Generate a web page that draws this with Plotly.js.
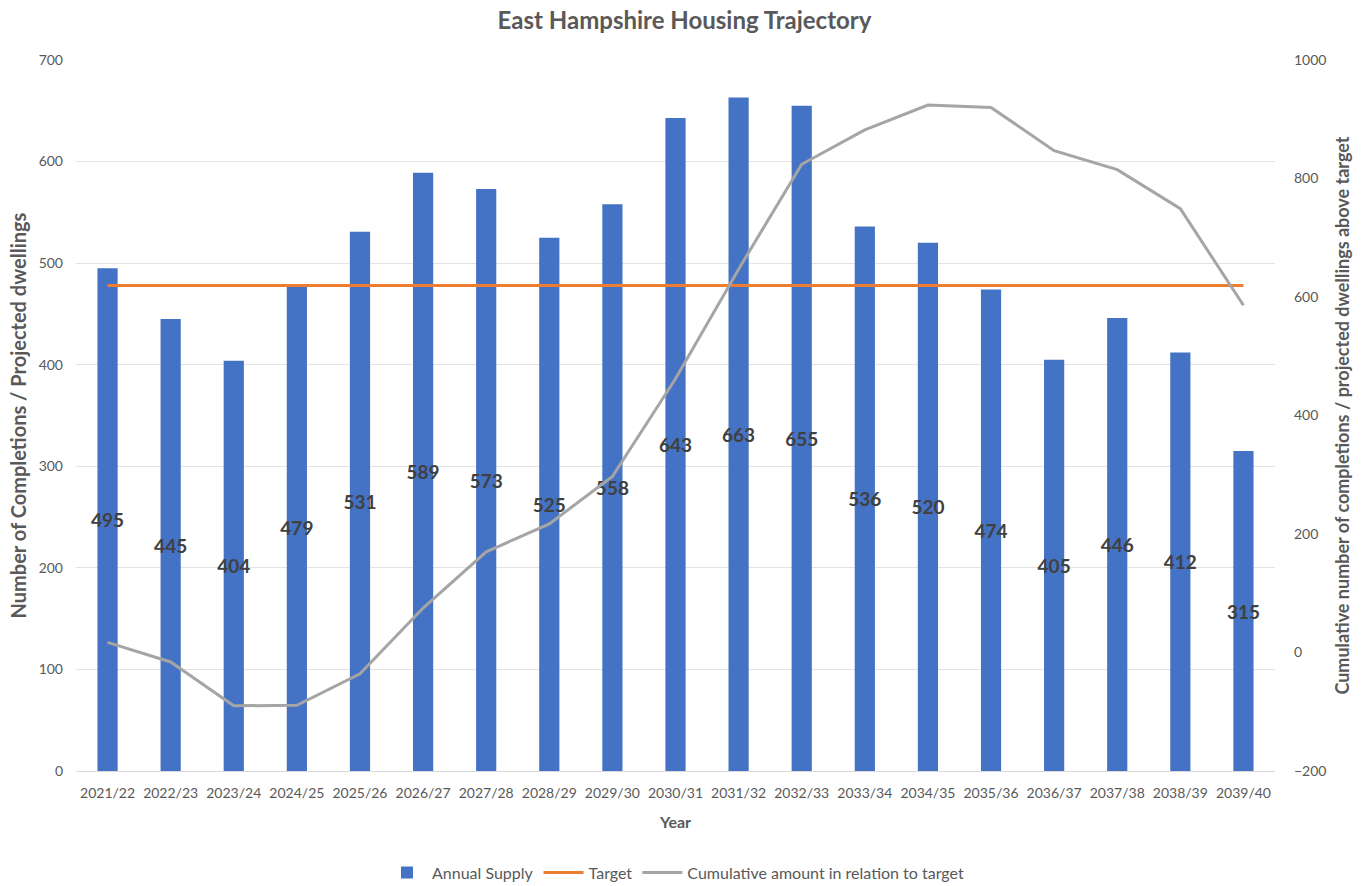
<!DOCTYPE html>
<html>
<head>
<meta charset="utf-8">
<script src="https://cdn.plot.ly/plotly-3.0.1.min.js"></script>
<style>html,body{margin:0;padding:0;background:#fff;}#chart{width:1369px;height:886px;}</style>
</head>
<body>
<div id="chart"></div>
<script>
const years = ["2021/22","2022/23","2023/24","2024/25","2025/26","2026/27","2027/28","2028/29","2029/30","2030/31","2031/32","2032/33","2033/34","2034/35","2035/36","2036/37","2037/38","2038/39","2039/40"];
const annualSupply = [495,445,404,479,531,589,573,525,558,643,663,655,536,520,474,405,446,412,315];
const target = [478,478,478,478,478,478,478,478,478,478,478,478,478,478,478,478,478,478,478];
const cumulative = [17,-16,-90,-89,-36,75,170,217,297,462,647,824,882,924,920,847,815,749,586];

const fontFam = "Lato, 'Open Sans', sans-serif";
const traces = [
  {type:'bar', x:years, y:annualSupply, name:'Annual Supply',
   marker:{color:'#4472C4'}, text:annualSupply.map(String),
   textposition:'inside', insidetextanchor:'middle', textangle:0, constraintext:'none',
   textfont:{family:fontFam, size:19, color:'#404040', weight:'bold'},
   hoverinfo:'x+y'},
  {type:'scatter', mode:'lines', x:years, y:target, name:'Target',
   line:{color:'#ED7D31', width:3}},
  {type:'scatter', mode:'lines', x:years, y:cumulative, name:'Cumulative amount in relation to target',
   yaxis:'y2', line:{color:'#A5A5A5', width:3}}
];
const layout = {
  width:1369, height:886,
  margin:{l:76, r:94, t:60, b:115, autoexpand:false},
  paper_bgcolor:'#fff', plot_bgcolor:'#fff',
  font:{family:fontFam, color:'#595959', size:14},
  title:{text:'East Hampshire Housing Trajectory', x:0.5, xanchor:'center', y:0.977, yanchor:'middle',
         font:{family:fontFam, size:24, color:'#595959', weight:'bold'}},
  bargap:0.68,
  showlegend:true,
  legend:{orientation:'h', x:0.5, xanchor:'center', y:-0.143, yanchor:'middle',
          font:{family:fontFam, size:16, color:'#595959'}, traceorder:'normal', itemwidth:40},
  xaxis:{type:'category', showgrid:false, zeroline:false, showline:false, automargin:false,
         ticks:'', tickfont:{size:14, color:'#595959'}, tickangle:0, ticklabelstandoff:12,
         title:{text:'Year', font:{size:16, color:'#595959', weight:'bold'}, standoff:16}},
  yaxis:{range:[0,700], dtick:100, showgrid:true, gridcolor:'#E3E3E3', gridwidth:1, automargin:false,
         zeroline:true, zerolinecolor:'#D9D9D9', showline:false, ticks:'',
         tickfont:{size:14, color:'#595959'}, ticklabelstandoff:12,
         title:{text:'Number of Completions / Projected dwellings', font:{size:20, color:'#595959', weight:'bold'}, standoff:6}},
  yaxis2:{overlaying:'y', side:'right', range:[-200,1000], dtick:200, showgrid:false, automargin:false,
          zeroline:false, showline:false, ticks:'', tickfont:{size:14, color:'#595959'},
          ticklabelstandoff:18,
          title:{text:'Cumulative number of completions / projected dwellings above target', font:{size:18, color:'#595959', weight:'bold'}, standoff:10}}
};
Plotly.newPlot('chart', traces, layout, {displayModeBar:false, staticPlot:true});
</script>
</body>
</html>
